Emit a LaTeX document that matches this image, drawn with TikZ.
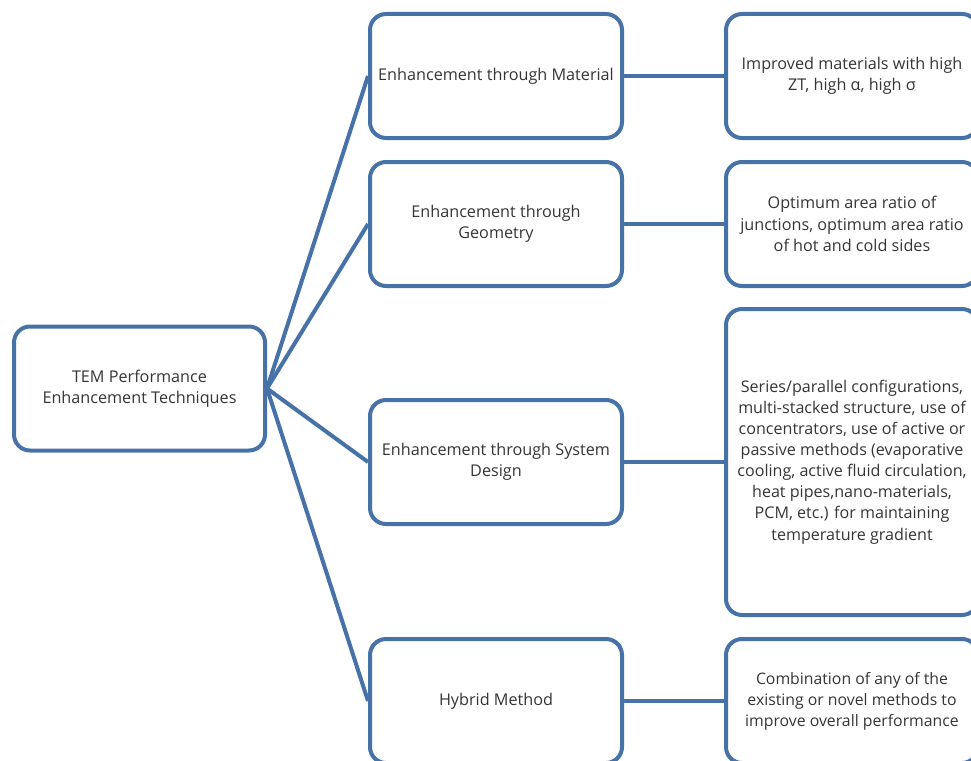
\documentclass[tikz,border=0pt]{standalone}
\usepackage{fontspec}
\setmainfont{Open Sans}
\usepackage{tikz}
\usetikzlibrary{positioning,
calc,
shapes}
\definecolor{boxblue}{HTML}{4672A8}
\definecolor{txtgray}{HTML}{353535}
\tikzstyle{Box} = [
rectangle,
draw=boxblue,
line width=4pt,
rounded corners=16pt,
minimum width=252pt,
minimum height=124pt,
align=center,
text=txtgray,
font=\fontsize{16.2}{21.5}\selectfont
]
\tikzstyle{Link} = [
draw=boxblue,
line width=4pt
]

\begin{document}
\begin{tikzpicture}[x=1pt, y=-1pt, node distance=100pt]
            \useasboundingbox (0,0) rectangle (971,760);
            \node [Box, minimum width=251pt] (tem) at (139.5,388.5) {TEM Performance\\Enhancement Techniques};
            \node [Box] (mat) at (496,76) {Enhancement through Material};
            \node [Box] (geo) at (496,224) {Enhancement through\\Geometry};
            \node [Box] (sys) at (496,462) {Enhancement through System\\Design};
            \node [Box] (hyb) at (496,701) {Hybrid Method};
            \node [Box, right =of mat] (matR) {Improved materials with high\\ZT, high α, high σ};
            \node [Box, right =of geo] (geoR) {Optimum area ratio of\\junctions, optimum area ratio\\of hot and cold sides};
            \node [Box, right =of sys, minimum height=306pt, font=\fontsize{16.1}{21.1}\selectfont] (sysR) {Series/parallel configurations,\\multi-stacked structure, use of\\concentrators, use of active or\\passive methods (evaporative\\cooling, active fluid circulation,\\heat pipes,nano-materials,\\PCM, etc.) for maintaining\\temperature gradient};
            \node [Box, right =of hyb, font=\fontsize{15.8}{21}\selectfont] (hybR) {Combination of any of the\\existing or novel methods to\\improve overall performance};
            
            \draw[Link] (tem.east) -- (mat.west);
            \draw[Link] (tem.east) -- (geo.west);
            \draw[Link] (tem.east) -- (sys.west);
            \draw[Link] (tem.east) -- (hyb.west);
            \draw[Link] (mat) -- (matR);
            \draw[Link] (geo) -- (geoR);
            \draw[Link] (sys) -- (sysR);
            \draw[Link] (hyb) -- (hybR);
        \end{tikzpicture}
\end{document}
